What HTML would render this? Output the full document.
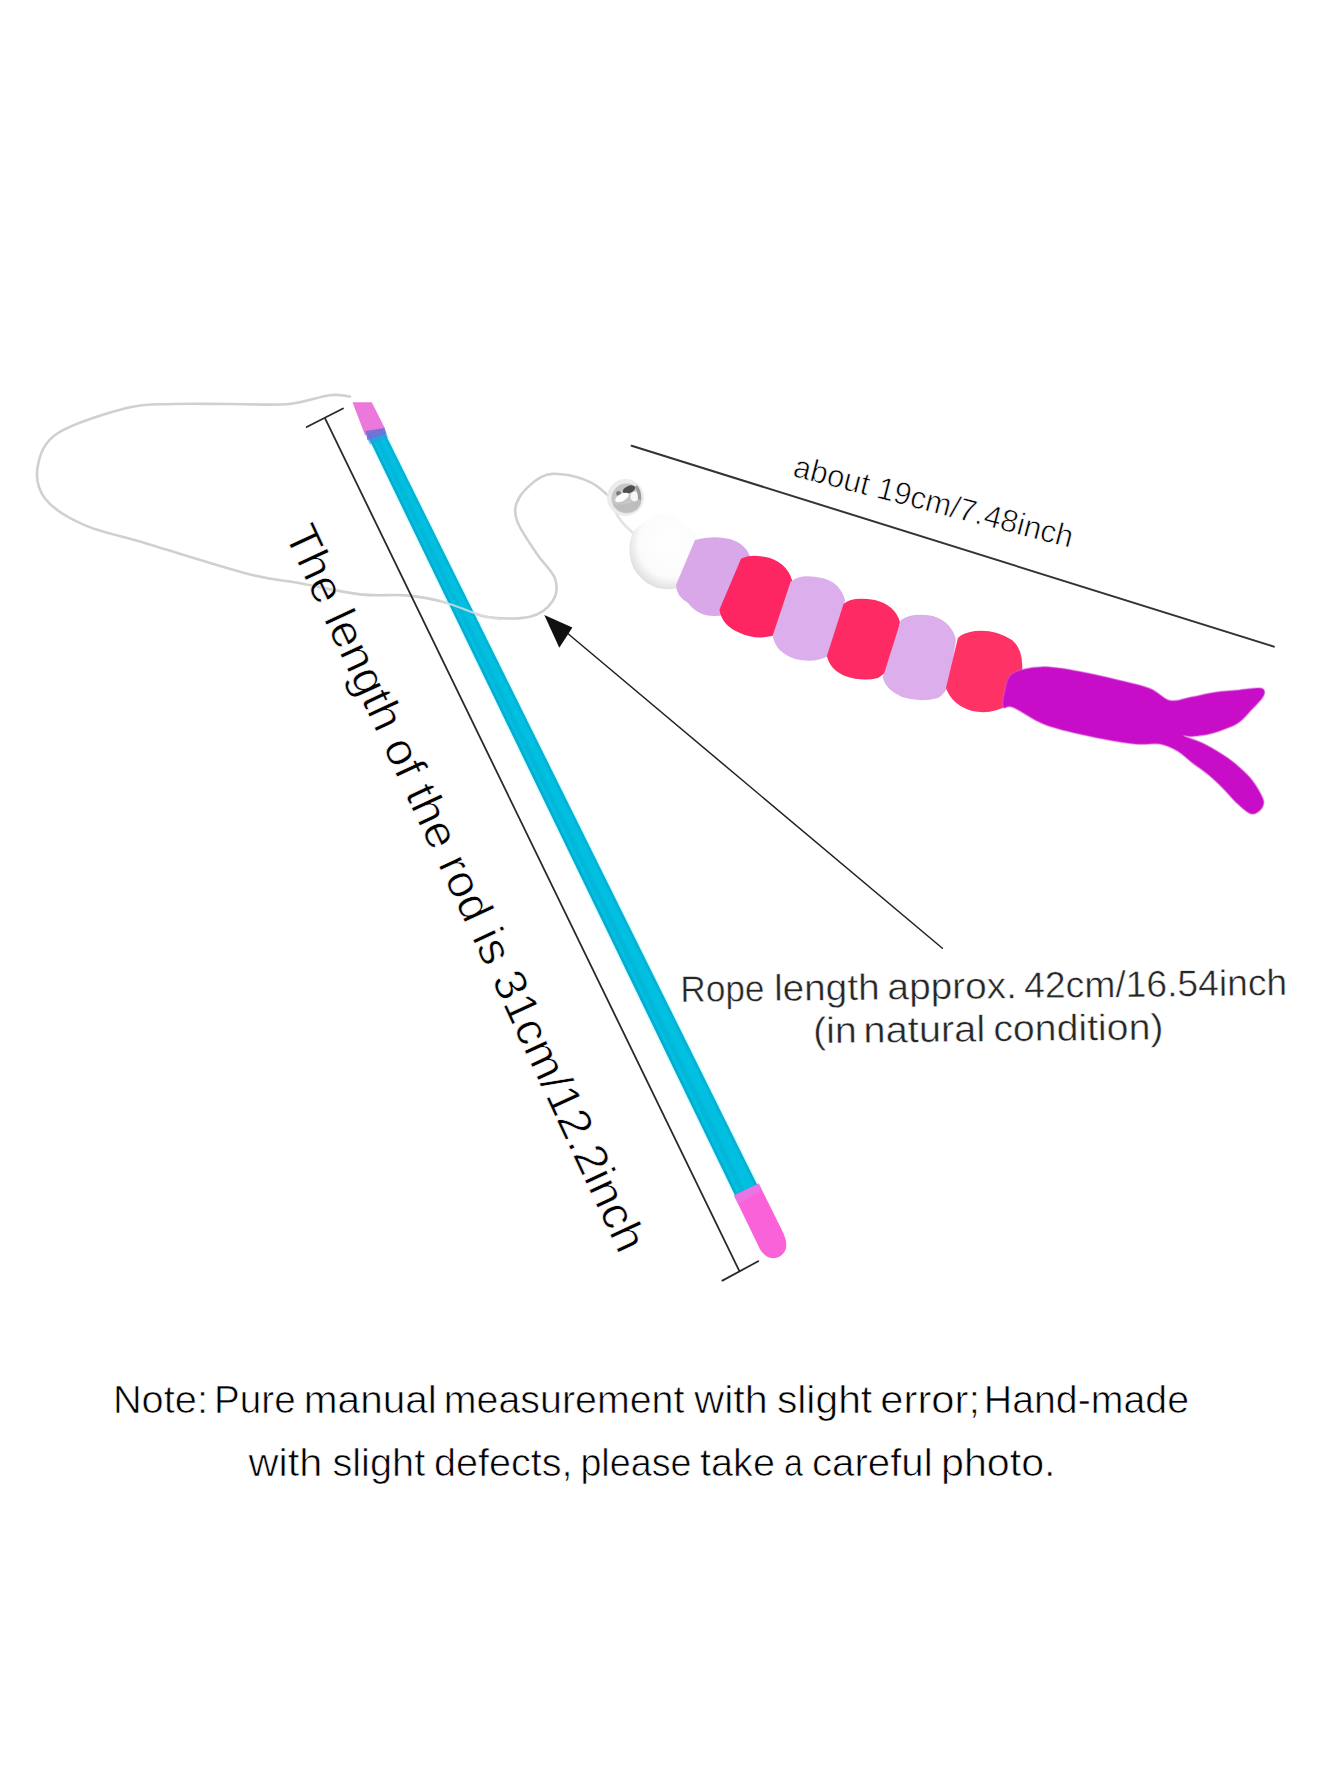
<!DOCTYPE html>
<html>
<head>
<meta charset="utf-8">
<style>
html,body{margin:0;padding:0;background:#fff;}
body{width:1340px;height:1785px;overflow:hidden;}
svg{display:block;font-family:"Liberation Sans",sans-serif;}
</style>
</head>
<body>
<svg width="1340" height="1785" viewBox="0 0 1340 1785">
<defs>
<filter id="soft" x="-10%" y="-10%" width="120%" height="120%"><feGaussianBlur stdDeviation="0.7"/></filter>
<radialGradient id="wg" cx="0.6" cy="0.38" r="0.62"><stop offset="0" stop-color="#ffffff"/><stop offset="0.75" stop-color="#fbfbfb"/><stop offset="1" stop-color="#e2e2e2"/></radialGradient>
</defs>
<rect width="1340" height="1785" fill="#fff"/>

<!-- rope loop (left) -->
<path d="M350.0,396.5 C346.6,396.3 339.8,393.9 329.6,395.2 C319.4,396.4 305.6,402.5 289.0,404.0 C272.4,405.5 249.5,404.0 230.0,404.0 C210.5,404.0 189.2,403.3 172.0,404.0 C154.8,404.7 145.6,403.2 126.6,408.0 C107.6,412.8 72.8,423.3 58.0,433.0 C43.2,442.7 39.9,455.0 37.8,466.0 C35.7,477.0 37.8,489.2 45.4,499.0 C53.0,508.8 66.5,517.1 83.4,524.6 C100.3,532.1 119.5,535.5 147.0,543.7 C174.5,551.9 223.1,567.5 248.4,574.0 C273.7,580.5 280.4,579.6 299.0,583.0 C317.6,586.4 342.0,592.3 360.0,594.4 C378.0,596.5 392.4,594.0 407.0,595.4 C421.6,596.8 434.4,599.5 447.5,603.0 C460.6,606.5 471.8,614.4 485.5,616.7 C499.2,619.0 518.8,619.3 530.0,616.7 C541.2,614.1 548.5,607.4 552.7,601.0 C556.9,594.6 557.6,586.4 555.0,578.6 C552.4,570.8 543.4,563.7 537.0,554.0 C530.6,544.3 519.9,529.7 516.9,520.4 C513.9,511.1 514.9,505.3 519.0,498.0 C523.1,490.7 534.0,480.7 541.5,476.8 C549.0,472.9 555.7,473.6 563.9,474.5 C572.1,475.4 583.2,478.8 590.7,482.4 C598.2,485.9 605.6,493.6 608.6,495.8" fill="none" stroke="#d0d0d0" stroke-width="2.6" stroke-linecap="round"/>

<!-- rod dimension line -->
<g stroke="#2a2a2a" stroke-width="1.8" fill="none" stroke-linecap="round">
<line x1="325.2" y1="418.7" x2="739.4" y2="1271.2"/>
<line x1="306.7" y1="427" x2="343" y2="408.5"/>
<line x1="722.4" y1="1280.6" x2="758.2" y2="1261.3"/>
</g>

<!-- rod -->
<g transform="translate(362.5,402) rotate(-25.81)">
  <polygon points="-11.5,30 7.8,30 16,880 -11.5,880" fill="#b8fbff" opacity="0.6"/>
  <polygon points="-10,20 6.3,20 14.5,880 -10,880" fill="#00bfe0"/>
  <polygon points="-10,20 -7.5,20 -7.5,880 -10,880" fill="#0aa6ca" opacity="0.8"/>
  <polygon points="3.9,20 6.3,20 14.5,880 11.7,880" fill="#0aaccf" opacity="0.8"/>
  <polygon points="-5,20 -1,20 1,880 -4,880" fill="#04b2d6" opacity="0.6"/>
  <path d="M-11,876 L16.5,876 L17,932 Q16,951 2,951 Q-9.5,950 -11,936 Z" fill="#fa62da"/>
  <path d="M-11,876 L16.5,876 L16.5,883 L-11,886 Z" fill="#e47ae8" opacity="0.7"/>
</g>
<!-- top pink cap (clipped flat) -->
<polygon points="352.5,402.2 371.8,402.2 385,428.5 365.1,435.3" fill="#ec78db"/>
<polygon points="365.5,431 384.5,428 386.5,433.5 367.5,440" fill="#7470d8" opacity="0.95"/>
<polygon points="367.5,439.5 386.5,433 388,437.5 370,444.5" fill="#3c92de" opacity="0.55"/>

<!-- rope crossing over rod -->
<path d="M440,601 C455,605 468,611 480,615 C490,618 497,619 502,619.5" fill="none" stroke="#d6dde0" stroke-width="2.2" opacity="0.85"/>

<!-- rod label -->
<text transform="translate(283.9,533.7) rotate(65.06)" font-size="45.5" fill="#000" textLength="795.8" lengthAdjust="spacingAndGlyphs" stroke="#fff" stroke-width="0.7">The length of the rod is 31cm/12.2inch</text>

<!-- top dimension line -->
<line x1="631.6" y1="445.7" x2="1273.9" y2="646.6" stroke="#333" stroke-width="2" stroke-linecap="round"/>
<text transform="translate(791.8,476) rotate(14.47)" font-size="31.5" fill="#000" textLength="287.6" lengthAdjust="spacingAndGlyphs" stroke="#fff" stroke-width="0.7">about 19cm/7.48inch</text>

<!-- arrow -->
<line x1="566" y1="632" x2="942.4" y2="948.3" stroke="#222" stroke-width="1.5" stroke-linecap="round"/>
<polygon points="544.3,614.9 572.4,627.5 559.3,647.8" fill="#111"/>

<!-- bell -->
<path d="M608.6,495.8 C612,505 616,515 622,522 C626,527 630,530 633,533" fill="none" stroke="#e2e2e2" stroke-width="2.6"/>
<circle cx="625.5" cy="497.5" r="18.5" fill="#ececec"/>
<circle cx="626.5" cy="498.5" r="15" fill="#c6c6c6"/>
<path d="M613,505 Q622,516 636,510 Q642,505 641,498 Q630,506 613,505 Z" fill="#bdbdbd"/>
<ellipse cx="629" cy="489.5" rx="6.5" ry="3.6" fill="#4e4e4e" transform="rotate(-22 629 489.5)"/>
<circle cx="618.5" cy="493.5" r="2.4" fill="#7a7a7a"/>
<ellipse cx="622" cy="497.5" rx="7.5" ry="3.6" fill="#fdfdfd" transform="rotate(-28 622 497.5)"/>
<ellipse cx="634.5" cy="496.5" rx="4" ry="5" fill="#f6f6f6"/>
<path d="M637,485 Q642,491 641,500 L638,499 Q638,492 635,487 Z" fill="#9a9a9a"/>

<!-- pompoms -->
<g filter="url(#soft)">
<path d="M637.5,527.8 C641.1,524.8 648.0,518.4 653.6,516.4 C659.2,514.4 665.9,514.5 671.0,515.7 C676.1,516.9 680.5,520.6 684.5,523.8 C688.5,526.9 692.8,529.9 695.2,534.6 C697.6,539.3 699.2,545.8 699.0,552.0 C698.8,558.2 696.8,566.3 694.0,572.0 C691.2,577.7 687.0,583.2 682.0,586.0 C677.0,588.8 670.1,589.5 664.3,589.0 C658.4,588.5 652.0,586.4 646.9,582.9 C641.8,579.4 636.3,573.7 633.4,568.1 C630.5,562.5 629.6,554.9 629.4,549.3 C629.2,543.7 630.8,538.2 632.1,534.6 C633.5,531.0 633.9,530.8 637.5,527.8Z" fill="url(#wg)"/>
<path d="M695,540 L676,585 Q676,596 688,603 Q698,616 714,616 Q736,616 745,598 L752,565 Q750,545 730,539 Q712,535 695,540 Z" fill="#d9a8e8"/>
<path d="M741,558.7 L719.4,609.8 Q722,626 740,633 Q755,640 772,636 Q785,630 788,615 L793,585 Q790,565 770,558 Q752,553 741,558.7 Z" fill="#fe2662"/>
<path d="M790.6,581.8 L772.7,635.5 Q775,652 795,659 Q815,664 830,655 Q840,645 841,630 L845,600 Q840,582 822,578 Q800,573 790.6,581.8 Z" fill="#dcaeec"/>
<path d="M843.5,604 L826.9,656.1 Q830,670 845,676 Q862,682 878,678 Q890,672 893,655 L900,622 Q895,605 875,600 Q852,596 843.5,604 Z" fill="#fe2963"/>
<path d="M901,620 L882.7,677.8 Q886,690 902,697 Q920,703 938,698 Q948,692 950,678 L956,640 Q952,622 933,616 Q912,612 901,620 Z" fill="#dcaeec"/>
<path d="M957.9,638 L946,688 Q952,705 972,711 Q992,715 1008,705 Q1020,695 1022,672 Q1024,650 1012,640 Q995,629 975,631 Q962,633 957.9,638 Z" fill="#fe3065"/>
</g>

<!-- feather -->
<path d="M1003.4,707.2 C1002.0,704.3 1003.5,695.6 1005.0,690.0 C1006.5,684.4 1006.3,677.5 1012.4,673.6 C1018.5,669.8 1030.3,667.2 1041.5,666.9 C1052.7,666.5 1067.1,669.4 1079.5,671.5 C1091.9,673.6 1104.3,676.7 1116.0,679.5 C1127.7,682.3 1140.9,685.0 1149.9,688.5 C1158.9,692.0 1163.1,699.1 1170.1,700.5 C1177.0,701.9 1184.0,698.4 1191.6,697.0 C1199.2,695.6 1207.5,693.4 1215.5,692.2 C1223.5,691.0 1232.0,690.6 1239.4,689.9 C1246.8,689.2 1255.5,687.8 1259.7,688.1 C1263.9,688.4 1264.1,689.9 1264.5,691.6 C1264.9,693.3 1264.3,695.1 1262.1,698.2 C1259.9,701.3 1255.1,706.1 1251.3,710.1 C1247.5,714.1 1243.4,719.1 1239.4,722.1 C1235.4,725.1 1232.5,726.1 1227.5,728.1 C1222.5,730.1 1215.6,732.6 1209.6,734.0 C1203.6,735.4 1195.8,736.1 1191.6,736.4 C1187.4,736.7 1182.0,734.7 1184.2,736.0 C1186.4,737.3 1197.6,740.6 1204.8,744.2 C1212.0,747.8 1220.9,753.3 1227.2,757.6 C1233.5,761.9 1237.9,765.9 1242.4,770.1 C1246.9,774.3 1250.6,777.9 1254.0,782.7 C1257.4,787.5 1261.5,794.9 1263.0,798.8 C1264.5,802.7 1263.8,803.8 1263.0,806.0 C1262.2,808.2 1260.2,810.8 1258.0,812.0 C1255.8,813.2 1253.7,815.1 1250.0,813.5 C1246.3,811.9 1240.6,806.6 1236.1,802.4 C1231.5,798.2 1227.2,792.6 1222.7,788.1 C1218.2,783.6 1214.5,779.8 1209.3,775.5 C1204.1,771.2 1196.5,766.1 1191.3,762.1 C1186.1,758.1 1183.1,754.3 1177.9,751.3 C1172.7,748.3 1167.2,745.2 1160.0,744.0 C1152.8,742.8 1146.5,745.2 1135.0,744.0 C1123.5,742.8 1105.5,739.7 1090.7,736.5 C1075.9,733.3 1058.9,729.8 1046.0,725.0 C1033.1,720.2 1020.4,710.5 1013.3,707.5 C1006.2,704.5 1004.8,710.1 1003.4,707.2Z" fill="#c70bc7" stroke="#d85ad8" stroke-width="1.5" stroke-opacity="0.5" filter="url(#soft)"/>

<!-- rope text -->
<g transform="rotate(-0.64 680.7 1001.9)">
<text x="680.6" y="1001.9" font-size="37" fill="#262626" textLength="83.9" lengthAdjust="spacingAndGlyphs" stroke="#fff" stroke-width="0.5">Rope</text>
<text x="774.2" y="1001.9" font-size="37" fill="#262626" textLength="105.5" lengthAdjust="spacingAndGlyphs" stroke="#fff" stroke-width="0.5">length</text>
<text x="887.6" y="1001.9" font-size="37" fill="#262626" textLength="129.4" lengthAdjust="spacingAndGlyphs" stroke="#fff" stroke-width="0.5">approx.</text>
<text x="1024.4" y="1001.9" font-size="37" fill="#262626" textLength="262.9" lengthAdjust="spacingAndGlyphs" stroke="#fff" stroke-width="0.5">42cm/16.54inch</text>
</g>
<g transform="rotate(-0.6 813 1043.2)">
<text x="813.2" y="1043.2" font-size="37" fill="#262626" textLength="43.8" lengthAdjust="spacingAndGlyphs" stroke="#fff" stroke-width="0.5">(in</text>
<text x="863.5" y="1043.2" font-size="37" fill="#262626" textLength="121.9" lengthAdjust="spacingAndGlyphs" stroke="#fff" stroke-width="0.5">natural</text>
<text x="993.4" y="1043.2" font-size="37" fill="#262626" textLength="170.2" lengthAdjust="spacingAndGlyphs" stroke="#fff" stroke-width="0.5">condition)</text>
</g>

<!-- note -->
<text x="112.9" y="1412.9" font-size="39.5" fill="#000" textLength="95.1" lengthAdjust="spacingAndGlyphs" stroke="#fff" stroke-width="0.7">Note:</text>
<text x="214.1" y="1412.9" font-size="39.5" fill="#000" textLength="81.6" lengthAdjust="spacingAndGlyphs" stroke="#fff" stroke-width="0.7">Pure</text>
<text x="303.8" y="1412.9" font-size="39.5" fill="#000" textLength="133.1" lengthAdjust="spacingAndGlyphs" stroke="#fff" stroke-width="0.7">manual</text>
<text x="443.8" y="1412.9" font-size="39.5" fill="#000" textLength="240.6" lengthAdjust="spacingAndGlyphs" stroke="#fff" stroke-width="0.7">measurement</text>
<text x="694.3" y="1412.9" font-size="39.5" fill="#000" textLength="73.5" lengthAdjust="spacingAndGlyphs" stroke="#fff" stroke-width="0.7">with</text>
<text x="776.9" y="1412.9" font-size="39.5" fill="#000" textLength="95.3" lengthAdjust="spacingAndGlyphs" stroke="#fff" stroke-width="0.7">slight</text>
<text x="880.3" y="1412.9" font-size="39.5" fill="#000" textLength="99.7" lengthAdjust="spacingAndGlyphs" stroke="#fff" stroke-width="0.7">error;</text>
<text x="983.8" y="1412.9" font-size="39.5" fill="#000" textLength="205.2" lengthAdjust="spacingAndGlyphs" stroke="#fff" stroke-width="0.7">Hand-made</text>
<text x="248.5" y="1475.8" font-size="39.5" fill="#000" textLength="73.8" lengthAdjust="spacingAndGlyphs" stroke="#fff" stroke-width="0.7">with</text>
<text x="332.4" y="1475.8" font-size="39.5" fill="#000" textLength="92.8" lengthAdjust="spacingAndGlyphs" stroke="#fff" stroke-width="0.7">slight</text>
<text x="433.9" y="1475.8" font-size="39.5" fill="#000" textLength="138.6" lengthAdjust="spacingAndGlyphs" stroke="#fff" stroke-width="0.7">defects,</text>
<text x="580.4" y="1475.8" font-size="39.5" fill="#000" textLength="111.1" lengthAdjust="spacingAndGlyphs" stroke="#fff" stroke-width="0.7">please</text>
<text x="700.1" y="1475.8" font-size="39.5" fill="#000" textLength="74.8" lengthAdjust="spacingAndGlyphs" stroke="#fff" stroke-width="0.7">take</text>
<text x="784.1" y="1475.8" font-size="39.5" fill="#000" textLength="18.9" lengthAdjust="spacingAndGlyphs" stroke="#fff" stroke-width="0.7">a</text>
<text x="812.0" y="1475.8" font-size="39.5" fill="#000" textLength="120.6" lengthAdjust="spacingAndGlyphs" stroke="#fff" stroke-width="0.7">careful</text>
<text x="941.0" y="1475.8" font-size="39.5" fill="#000" textLength="114.5" lengthAdjust="spacingAndGlyphs" stroke="#fff" stroke-width="0.7">photo.</text>
</svg>
</body>
</html>
